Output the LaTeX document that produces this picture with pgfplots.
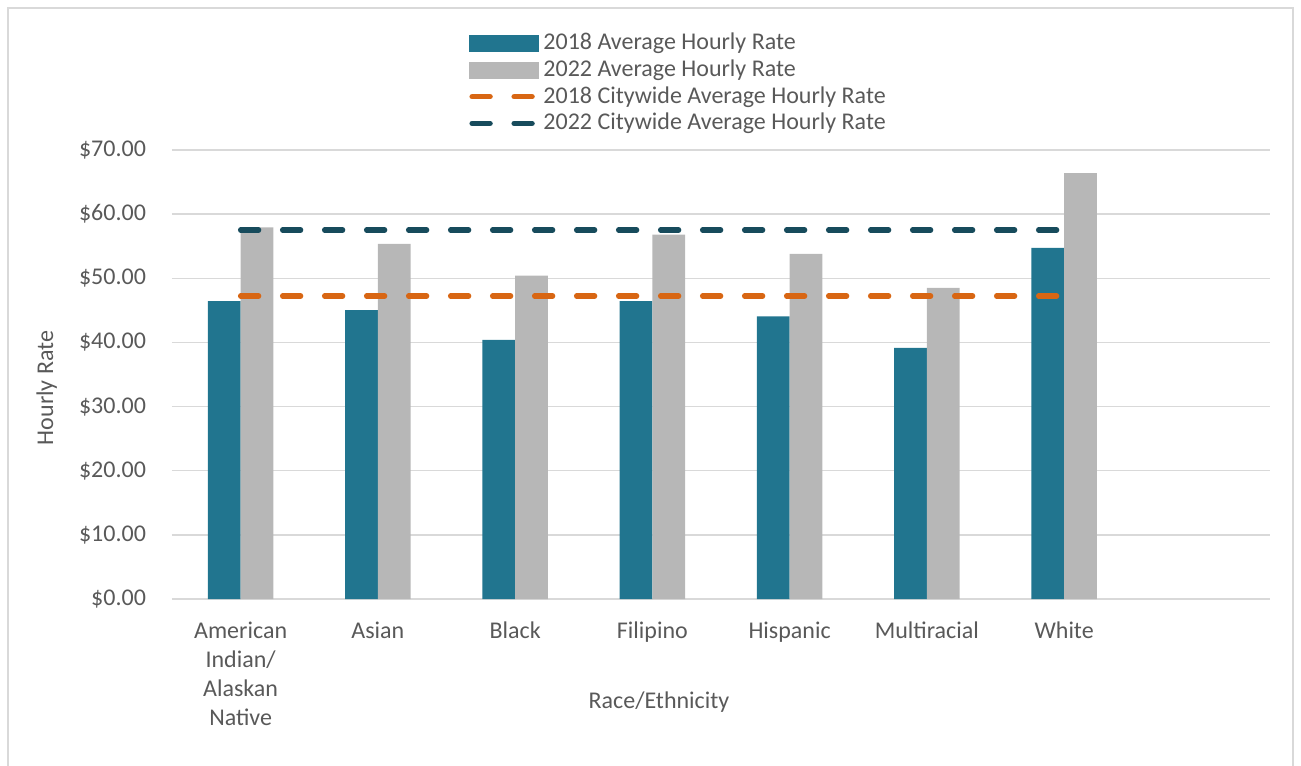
\documentclass[border=0pt]{standalone}
\usepackage{pgfplots}
\pgfplotsset{compat=1.18}
\usepackage{pgfplotstable}
\usepackage{fontspec}
\setmainfont{Carlito}
\definecolor{c2018}{HTML}{21758F}
\definecolor{c2022}{HTML}{B7B7B7}
\definecolor{corange}{HTML}{D86613}
\definecolor{cdark}{HTML}{174B5C}
\definecolor{gridc}{HTML}{D9D9D9}
\definecolor{txt}{HTML}{595959}
\pgfplotstableread{
x y18 y22
0 46.45 57.95
1 45.05 55.35
2 40.40 50.40
3 46.45 56.80
4 44.05 53.80
5 39.15 48.50
6 54.75 66.40
}\rates
\pgfplotstableread{
x c18 c22
0 47.25 57.55
1 47.25 57.55
2 47.25 57.55
3 47.25 57.55
4 47.25 57.55
5 47.25 57.55
6 47.25 57.55
}\city
\begin{document}
\begin{tikzpicture}
\path[use as bounding box] (-129pt,-124.5pt) rectangle (846.75pt,449.25pt);
\draw[gridc, line width=1.2pt] (-123pt,-140pt) -- (-123pt,443.25pt) -- (840.75pt,443.25pt) -- (840.75pt,-140pt);
\begin{axis}[
  at={(0,0)}, anchor=south west,
  width=823.5pt, height=336.75pt, scale only axis,
  xmin=-0.5, xmax=7.5, ymin=0, ymax=70,
  ybar=0pt, bar width=24.5pt,
  axis line style={draw=none},
  major tick length=0pt,
  ymajorgrids, grid style={gridc, line width=1.1pt},
  ytick={0,10,...,70},
  yticklabel={\$\pgfmathprintnumber[fixed,fixed zerofill,precision=2]{\tick}},
  /pgf/number format/assume math mode=true,
  yticklabel style={anchor=east, xshift=-16pt},
  xtick={0,...,6},
  xticklabels={{American\\Indian/\\Alaskan\\Native},Asian,Black,Filipino,Hispanic,Multiracial,White},
  xticklabel style={align=center, anchor=north, yshift=-13.5pt},
  ticklabel style={font=\fontsize{18}{21.75}\selectfont, text=txt},
  label style={font=\fontsize{18}{21}\selectfont, text=txt},
  xlabel={Race/Ethnicity},
  xlabel style={at={(rel axis cs:0.4435,-0.229)}, anchor=center},
  ylabel={Hourly Rate},
  ylabel style={at={(rel axis cs:-0.114,0.47)}, anchor=center},
  legend style={draw=none, fill=none, at={(rel axis cs:0.267,1.2735)}, anchor=north west,
    font=\fontsize{18}{21}\selectfont, text=txt, legend cell align=left,
    nodes={inner ysep=1.75pt, inner xsep=3pt, text height=13pt, text depth=3.5pt}, row sep=0pt,
    /tikz/every even column/.append style={column sep=1.5pt}},
]
\addplot[fill=c2018, draw=none,
  legend image code/.code={\fill[c2018] (0pt,-6.4pt) rectangle (52.5pt,6.4pt);}]
  table[x=x,y=y18]{\rates};
\addlegendentry{2018 Average Hourly Rate}
\addplot[fill=c2022, draw=none,
  legend image code/.code={\fill[c2022] (0pt,-6.4pt) rectangle (52.5pt,6.4pt);}]
  table[x=x,y=y22]{\rates};
\addlegendentry{2022 Average Hourly Rate}
\addplot[sharp plot, corange, line width=4pt, line cap=round, dash pattern=on 13.5pt off 18pt,
  legend image code/.code={\draw[corange, line width=4pt, line cap=round, dash pattern=on 13.5pt off 18pt] (2pt,0pt) -- (49pt,0pt);}]
  table[x=x,y=c18]{\city};
\addlegendentry{2018 Citywide Average Hourly Rate}
\addplot[sharp plot, cdark, line width=4pt, line cap=round, dash pattern=on 13.5pt off 18pt,
  legend image code/.code={\draw[cdark, line width=4pt, line cap=round, dash pattern=on 13.5pt off 18pt] (2pt,0pt) -- (49pt,0pt);}]
  table[x=x,y=c22]{\city};
\addlegendentry{2022 Citywide Average Hourly Rate}
\end{axis}
\end{tikzpicture}
\end{document}
